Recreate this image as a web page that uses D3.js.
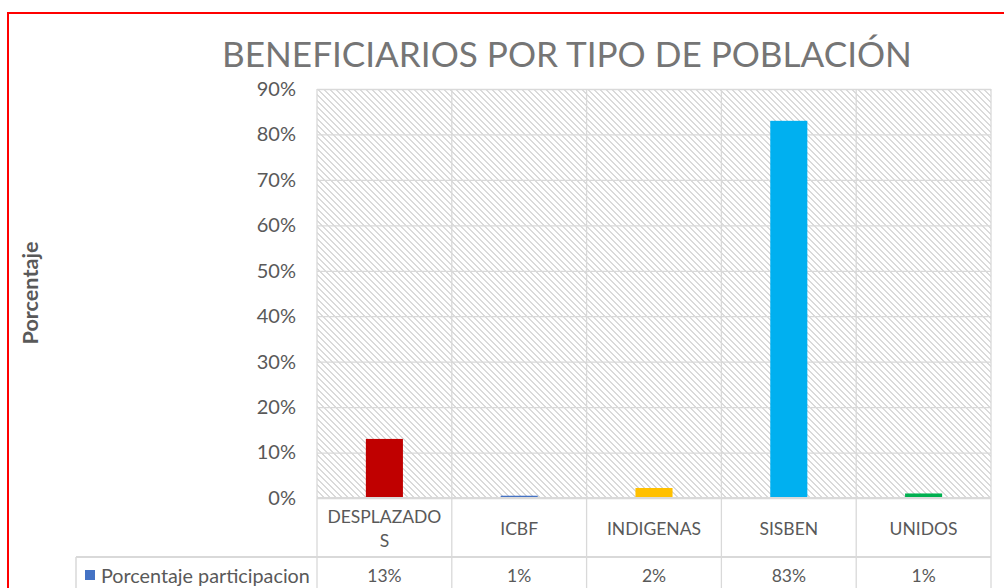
<!DOCTYPE html>
<html><head><meta charset="utf-8">
<script src="https://cdn.jsdelivr.net/npm/d3@7"></script>
<style>html,body{margin:0;padding:0;background:#fff;overflow:hidden}svg{display:block}</style>
</head><body>
<svg id="c" width="1004" height="588"></svg>
<script>
const title = "BENEFICIARIOS POR TIPO DE POBLACIÓN";
const yTitle = "Porcentaje";
const seriesName = "Porcentaje participacion";
const categories = ["DESPLAZADOS", "ICBF", "INDIGENAS", "SISBEN", "UNIDOS"];
const values = [0.13, 0.005, 0.022, 0.83, 0.01];
const valueLabels = ["13%", "1%", "2%", "83%", "1%"];
const colors = ["#C00000", "#4472C4", "#FFC000", "#00B0F0", "#00B050"];
const yTicks = [0, 0.1, 0.2, 0.3, 0.4, 0.5, 0.6, 0.7, 0.8, 0.9];

const FONT = "Lato, 'Open Sans', sans-serif";
const svg = d3.select("#c");
const W = 1004, H = 588;
const L = 317, R = 991, T = 89, B = 498;
const rowSplit = 557, tableLeft = 76;
const grid = "#d9d9d9", txt = "#595959";

svg.append("rect").attr("width", W).attr("height", H).attr("fill", "#fff");

// hatch pattern (downward diagonal, 6px period)
const defs = svg.append("defs");
const pat = defs.append("pattern").attr("id", "hatch").attr("patternUnits", "userSpaceOnUse")
  .attr("x", L).attr("y", T).attr("width", 6).attr("height", 6);
const cells = [];
for (let i = 0; i < 6; i++) { cells.push([i, i]); cells.push([(i + 1) % 6, i]); }
pat.selectAll("rect").data(cells).join("rect")
  .attr("x", d => d[0]).attr("y", d => d[1]).attr("width", 1).attr("height", 1)
  .attr("fill", "#dadada").attr("shape-rendering", "crispEdges");

const y = d3.scaleLinear().domain([0, 0.9]).range([B, T]);
const x = d3.scaleBand().domain(categories).range([L, R]).padding(0);
const xBar = d3.scaleBand().domain(categories).range([L, R]).paddingInner(0.725).paddingOuter(0.3625);

svg.append("rect").attr("x", L).attr("y", T).attr("width", R - L).attr("height", B - T)
  .attr("fill", "url(#hatch)");

// horizontal gridlines
const yAxis = d3.axisLeft(y).tickValues(yTicks).tickFormat(d3.format(".0%")).tickSize(-(R - L)).tickPadding(21);
const gy = svg.append("g").attr("transform", `translate(${L},0)`).call(yAxis);
gy.select(".domain").remove();
gy.selectAll(".tick line").attr("stroke", grid).attr("stroke-width", 1.3);
gy.selectAll(".tick text").attr("font-family", FONT).attr("font-size", 20).attr("fill", txt);

// vertical gridlines / table columns
const bounds = categories.map(c => x(c)).concat([R]);
svg.append("g").selectAll("line").data(bounds).join("line")
  .attr("x1", d => d).attr("x2", d => d).attr("y1", T).attr("y2", H + 5)
  .attr("stroke", grid).attr("stroke-width", 1.3);

// bars
svg.append("g").selectAll("rect").data(categories).join("rect")
  .attr("x", d => xBar(d)).attr("width", xBar.bandwidth())
  .attr("y", (d, i) => y(values[i])).attr("height", (d, i) => B - y(values[i]))
  .attr("fill", (d, i) => colors[i]);

// table lines
svg.append("line").attr("x1", L).attr("x2", R).attr("y1", B).attr("y2", B).attr("stroke", grid).attr("stroke-width", 2);
svg.append("line").attr("x1", tableLeft).attr("x2", R).attr("y1", rowSplit).attr("y2", rowSplit).attr("stroke", grid).attr("stroke-width", 2);
svg.append("line").attr("x1", tableLeft).attr("x2", tableLeft).attr("y1", rowSplit).attr("y2", H + 5).attr("stroke", grid).attr("stroke-width", 1.5);

// category labels with character wrap
const catG = svg.append("g");
categories.forEach(c => {
  const cx = x(c) + x.bandwidth() / 2;
  const t = catG.append("text").attr("font-family", FONT).attr("font-size", 17.5).attr("fill", txt)
    .attr("text-anchor", "middle");
  const maxW = x.bandwidth() - 12;
  let lines = [], cur = "";
  const probe = catG.append("text").attr("font-family", FONT).attr("font-size", 17.5);
  for (const ch of c) {
    probe.text(cur + ch);
    if (probe.node().getComputedTextLength() > maxW && cur) { lines.push(cur); cur = ch; }
    else cur += ch;
  }
  lines.push(cur);
  probe.remove();
  const lh = 24, mid = (B + rowSplit) / 2 + 1;
  lines.forEach((ln, i) => {
    t.append("tspan").attr("x", cx).attr("y", mid + (i - (lines.length - 1) / 2) * lh)
      .attr("dy", "0.35em").text(ln);
  });
});

// value row
svg.append("g").selectAll("text").data(categories).join("text")
  .attr("x", d => x(d) + x.bandwidth() / 2).attr("y", 576).attr("dy", "0.35em")
  .attr("text-anchor", "middle").attr("font-family", FONT).attr("font-size", 17.5).attr("fill", txt)
  .text((d, i) => valueLabels[i]);
svg.append("rect").attr("x", 85).attr("y", 570).attr("width", 10).attr("height", 10).attr("fill", colors[1]);
const leg = svg.append("text").attr("x", 101).attr("y", 576).attr("dy", "0.35em")
  .attr("font-family", FONT).attr("font-size", 17.5).attr("fill", txt).text(seriesName);
const lw = leg.node().getComputedTextLength();
if (lw > 0) leg.attr("font-size", 17.5 * 209 / lw);

// y title
const yt = svg.append("text").attr("transform", "translate(30,293) rotate(-90)").attr("text-anchor", "middle")
  .attr("dy", "0.35em").attr("font-family", FONT).attr("font-weight", "bold").attr("font-size", 17)
  .attr("fill", txt).text(yTitle);
const yw = yt.node().getComputedTextLength();
if (yw > 0) yt.attr("font-size", 17 * 103 / yw);

// title
const tt = svg.append("text").attr("x", (222 + 912) / 2).attr("y", 55).attr("dy", "0.35em")
  .attr("text-anchor", "middle").attr("font-family", FONT)
  .attr("font-size", 30).attr("fill", "#757575").text(title);
const tw = tt.node().getComputedTextLength();
if (tw > 0) tt.attr("font-size", 30 * 690 / tw);

// outer red border
svg.append("rect").attr("x", 8).attr("y", 13).attr("width", 1010).attr("height", 600)
  .attr("fill", "none").attr("stroke", "#ff0000").attr("stroke-width", 2);
</script>
</body></html>
